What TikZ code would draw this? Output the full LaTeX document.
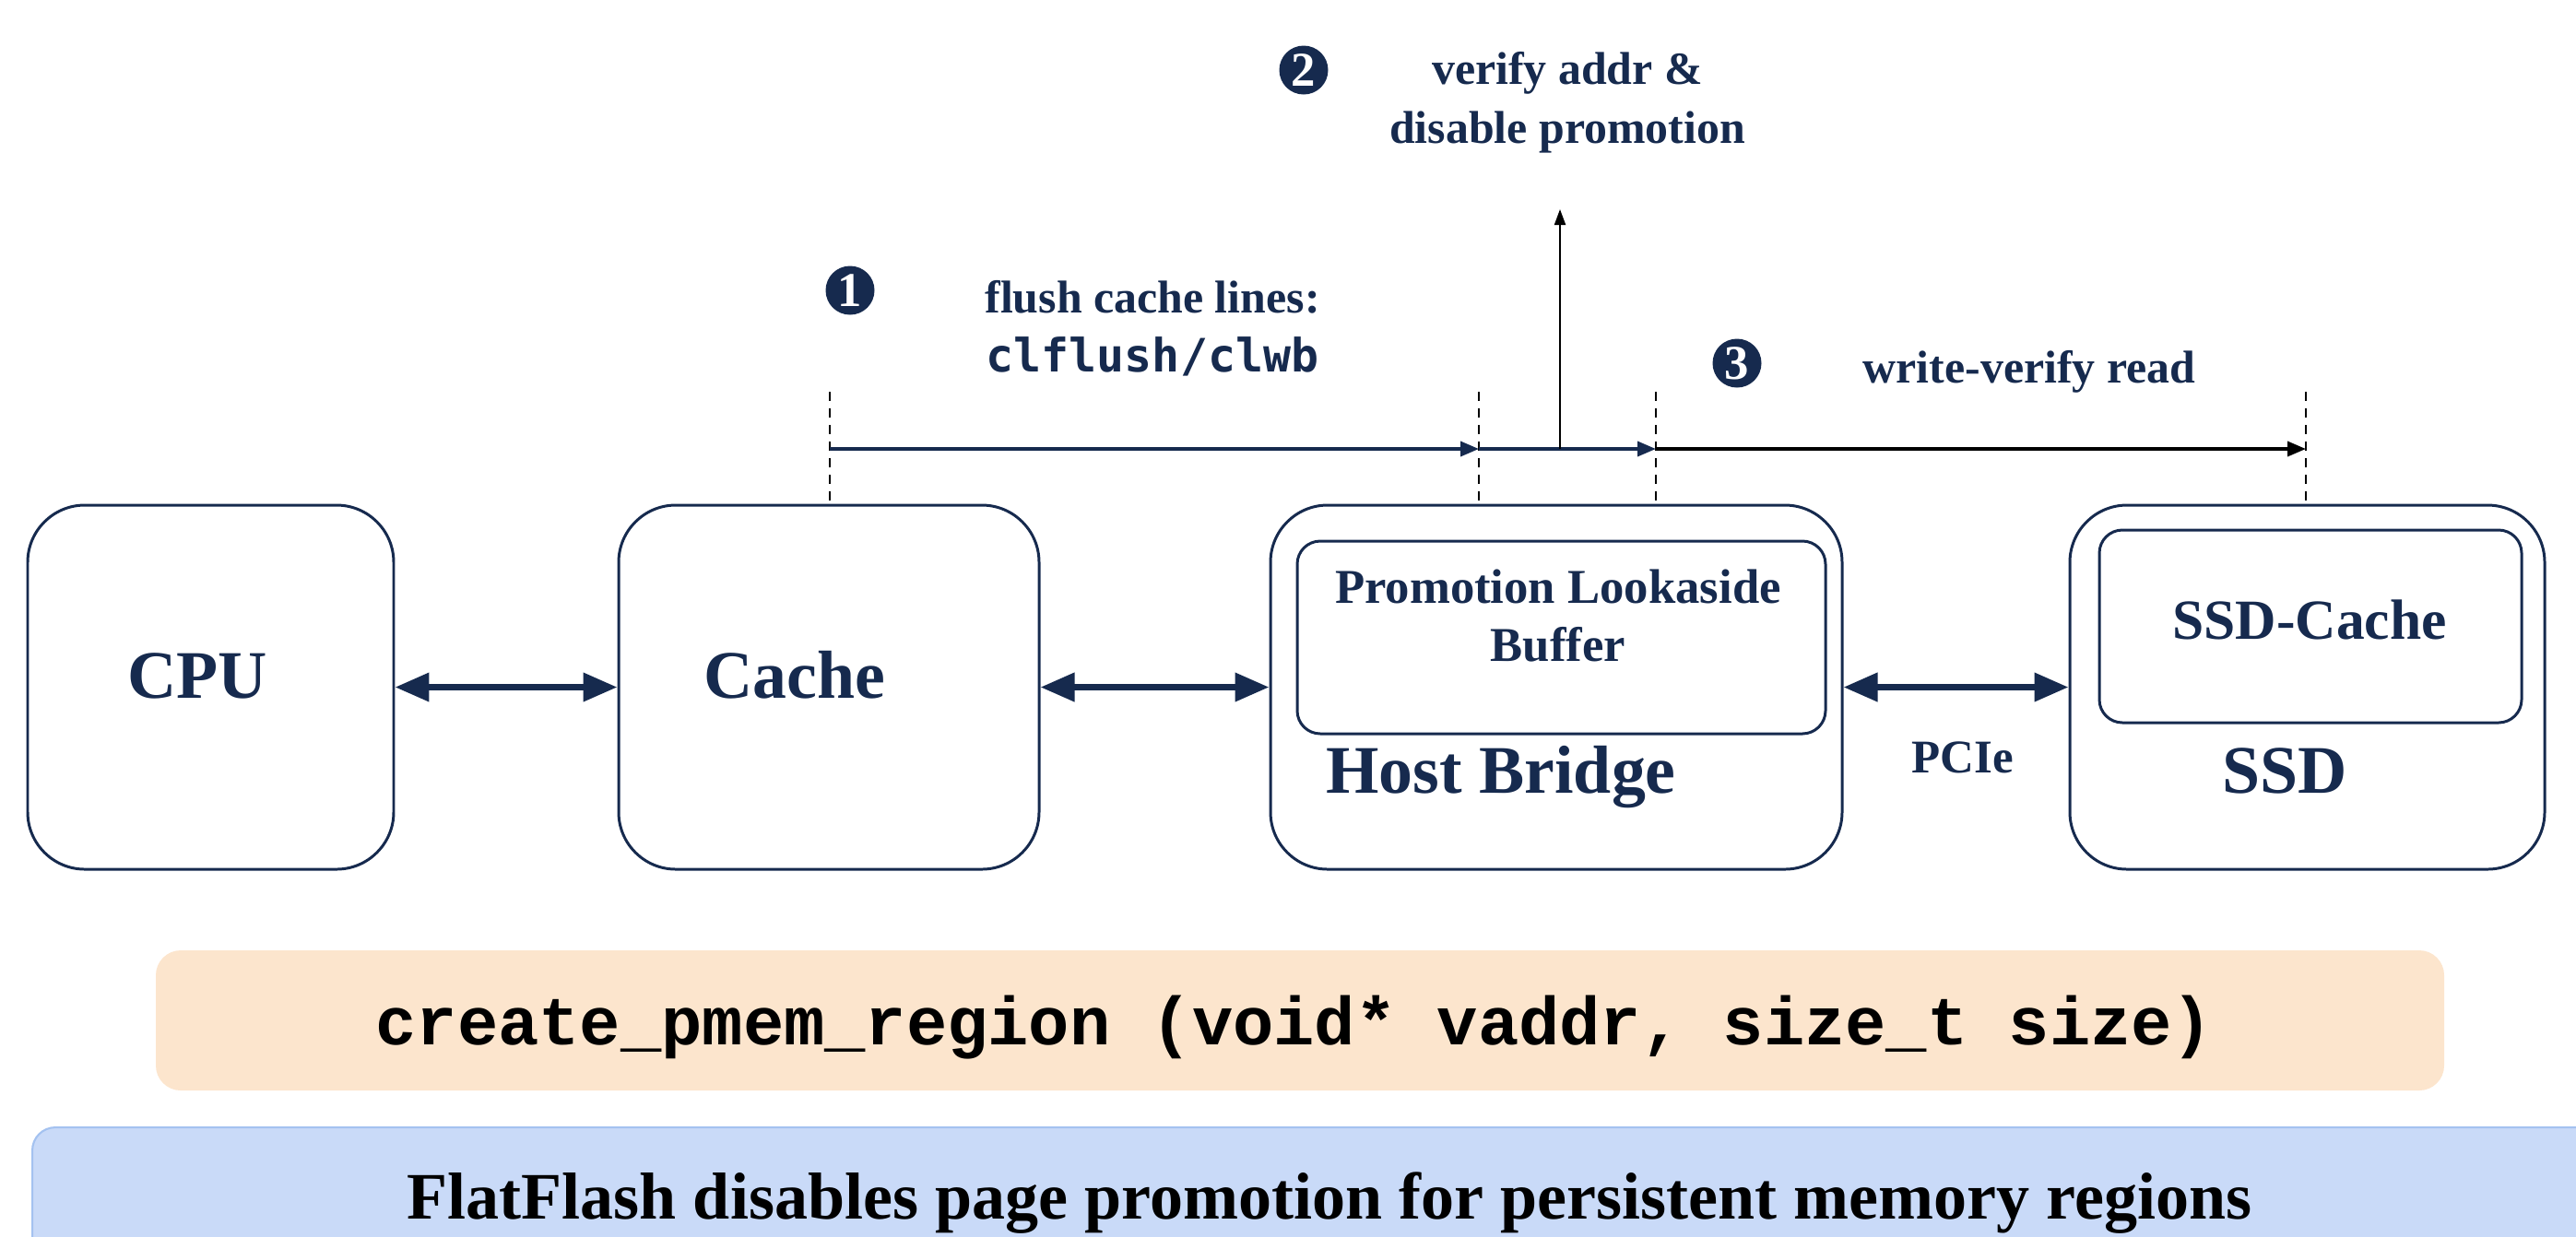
\documentclass[tikz,border=0pt]{standalone}
\usepackage{fontspec}
\setmainfont{Liberation Serif}
\newfontfamily\apifont{Liberation Mono}
\newfontfamily\insnfont{DejaVu Sans Mono}
\usetikzlibrary{arrows.meta}
\usetikzlibrary{positioning}
\definecolor{navy}{RGB}{22,42,78}
\definecolor{apricot}{RGB}{252,229,205}
\definecolor{paleblue}{RGB}{201,218,248}
\definecolor{blueedge}{RGB}{164,194,240}

\begin{document}
\begin{tikzpicture}[
    hw/.style = {draw=navy, line width=0.85pt, rounded corners=0.62cm, minimum height=3.95cm, inner sep=0pt},
    inbox/.style = {draw=navy, line width=0.85pt, rounded corners=0.25cm, minimum height=2.09cm, inner sep=0pt},
    big/.style = {text=navy, font=\bfseries\fontsize{21}{25}\selectfont, anchor=base},
    lbl/.style = {text=navy, font=\bfseries\fontsize{14.2}{18.2}\selectfont, align=center},
    num/.style = {circle, fill=navy, text=white, minimum size=0.53cm, inner sep=0pt, font=\bfseries\fontsize{15}{15}\selectfont},
    bus/.style = {navy, line width=2pt, {Triangle[length=0.37cm,width=0.3cm]}-{Triangle[length=0.37cm,width=0.3cm]}},
    flow/.style = {navy, line width=1pt, -{Triangle[length=0.2cm,width=0.16cm]}},
    guide/.style = {dash pattern=on 0.1cm off 0.08cm, line width=0.55pt}
]
    \useasboundingbox (0,0) rectangle (27.94,-13.41);

    % hardware boxes
    \node[hw, minimum width=3.97cm] (cpu) at (2.285,-7.455) {};
    \node[hw, minimum width=4.56cm] (cache) at (8.99,-7.455) {};
    \node[hw, minimum width=6.20cm] (bridge) at (16.88,-7.455) {};
    \node[hw, minimum width=5.15cm] (ssd) at (25.025,-7.455) {};
    \node[inbox, minimum width=5.73cm] (plb) at (16.935,-6.915) {};
    \node[inbox, minimum width=4.58cm] (ssdcache) at (25.06,-6.795) {};

    \node[big] (cpulbl) at (2.14,-7.57) {CPU};
    \node[big] (cachelbl) at (8.62,-7.57) {Cache};
    \node[big] (bridgelbl) at (16.28,-8.60) {Host Bridge};
    \node[big] (ssdlbl) at (24.78,-8.60) {SSD};
    \node[text=navy, font=\bfseries\fontsize{15}{18.2}\selectfont, align=center] (plblbl) at (16.90,-6.68) {Promotion Lookaside\\Buffer};
    \node[text=navy, font=\bfseries\fontsize{17.5}{20}\selectfont, anchor=base] (ssdcachelbl) at (25.05,-6.93) {SSD-Cache};
    \node[text=navy, font=\bfseries\fontsize{14.5}{17}\selectfont, anchor=base] (pcie) at (21.29,-8.38) {PCIe};

    \draw[bus] (cpu) -- (cache);
    \draw[bus] (cache) -- (bridge);
    \draw[bus] (bridge) -- (ssd);

    % persist steps
    \foreach \x/\n in {9.00/a, 16.04/b, 17.96/c, 25.01/d} {
        \coordinate (g\n) at (\x,-4.25);
        \coordinate (f\n) at (\x,-4.87);
    }
    \draw[guide] (ga) -- (ga |- cache.north);
    \draw[guide] (gb) -- (gb |- bridge.north);
    \draw[guide] (gc) -- (gc |- bridge.north);
    \draw[guide] (gd) -- (gd |- ssd.north);
    \draw[flow] (fa) -- (fb);
    \draw[flow] (fb) -- (fc);
    \draw[flow, black] (fc) -- (fd);
    \coordinate (upfoot) at (16.92,-4.87);
    \coordinate (uptip) at (16.92,-2.27);
    \draw[line width=0.6pt, -{Triangle[length=0.17cm,width=0.12cm]}] (upfoot) -- (uptip);

    \node[num] (n1) at (9.22,-3.15) {1};
    \node[lbl] (flushlbl) at (12.50,-3.56) {flush cache lines:\\{\insnfont clflush/clwb}};
    \node[num] (n2) at (14.14,-0.76) {2};
    \node[lbl] (verifylbl) at (17.00,-1.11) {verify addr \&\\disable promotion};
    \node[num] (n3) at (18.84,-3.94) {3};
    \node[lbl, anchor=base] (writelbl) at (22.01,-4.15) {write-verify read};

    % api and banner
    \node[fill=apricot, rounded corners=0.27cm, minimum width=24.82cm, minimum height=1.52cm] (api) at (14.10,-11.07) {};
    \node[font=\apifont\bfseries\fontsize{21}{21}\selectfont, anchor=base] (apilbl) at (14.04,-11.33) {create\_pmem\_region (void* vaddr, size\_t size)};
    \begin{scope}
        \clip (0,0) rectangle (27.94,-13.41);
        \node[fill=paleblue, draw=blueedge, line width=0.6pt, rounded corners=0.25cm, minimum width=28cm, minimum height=1.8cm, anchor=north west] (banner) at (0.34,-12.22) {};
    \end{scope}
    \node[font=\bfseries\fontsize{20.5}{24}\selectfont, anchor=base] (bannerlbl) at (14.42,-13.22) {FlatFlash disables page promotion for persistent memory regions};
\end{tikzpicture}
\end{document}
